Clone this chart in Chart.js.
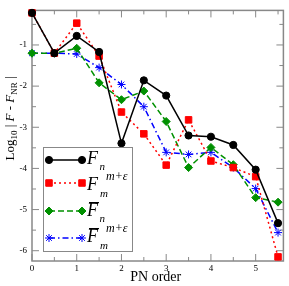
<!DOCTYPE html>
<html>
<head>
<meta charset="utf-8">
<script src="https://cdn.jsdelivr.net/npm/chart.js@4.4.0/dist/chart.umd.min.js"></script>
<style>
  html, body { margin: 0; padding: 0; background: #fff; }
  #wrap { width: 289px; height: 286px; }
</style>
</head>
<body>
<div id="wrap"><canvas id="c" width="289" height="286"></canvas></div>
<script>
// PN orders and log10 errors
const pnOrder = [0, 0.5, 1, 1.5, 2, 2.5, 3, 3.5, 4, 4.5, 5, 5.5];
const fN      = [-0.22, -1.2, -0.78, -1.17, -3.39, -1.86, -2.23, -3.2, -3.23, -3.43, -4.03, -5.33];
const fMEps   = [-0.22, -1.2, -0.47, -1.27, -2.63, -3.16, -3.92, -2.82, -3.82, -3.98, -4.2, -6.15];
const fBarN   = [-1.2, -1.2, -1.08, -1.92, -2.33, -2.12, -2.86, -3.98, -3.49, -3.91, -4.71, -4.82];
const fBarMEps= [-1.2, -1.2, -1.22, -1.55, -1.96, -2.5, -3.61, -3.66, -3.61, -3.98, -4.49, -5.56];
const xTicks = [0, 1, 2, 3, 4, 5];
const yTicks = [-1, -2, -3, -4, -5, -6];

const serif = "'Liberation Serif', 'DejaVu Serif', serif";
const green = '#009000';

function pts(ys) {
  return pnOrder.map((x, i) => ({ x: x, y: ys[i] }));
}

const series = [
  { data: fN, color: '#000', dash: [], style: 'circle', r: 3.6, bw: 1, bar: false, sub: 'n', sup: '' },
  { data: fMEps, color: '#ff0000', dash: [2, 3], style: 'rect', r: 4.6, bw: 1, bar: false, sub: 'm', sup: 'm+ε' },
  { data: fBarN, color: green, dash: [6, 3], style: 'rectRot', r: 4, bw: 1, bar: true, sub: 'n', sup: '' },
  { data: fBarMEps, color: '#0000ff', dash: [6, 3, 1.5, 3], style: 'star', r: 4, bw: 1, bar: true, sub: 'm', sup: 'm+ε' }
];

const datasets = series.map(s => ({
  data: pts(s.data),
  borderColor: s.color,
  backgroundColor: s.color,
  borderWidth: 1.5,
  borderDash: s.dash,
  pointStyle: s.style,
  pointRadius: s.r,
  pointBorderWidth: s.bw,
  pointBackgroundColor: s.color,
  pointBorderColor: s.color,
  tension: 0,
  clip: false
}));

function drawMarker(ctx, s, x, y) {
  ctx.save();
  ctx.setLineDash([]);
  ctx.fillStyle = s.color;
  ctx.strokeStyle = s.color;
  ctx.lineWidth = s.bw;
  Chart.helpers.drawPoint(ctx, { pointStyle: s.style, radius: s.r, rotation: 0, borderWidth: s.bw }, x, y);
  ctx.restore();
}

// frame with inward ticks, axis titles, legend
const decor = {
  id: 'decor',
  beforeDatasetsDraw(chart) {
    const ctx = chart.ctx;
    const a = chart.chartArea;
    const xs = chart.scales.x, ys = chart.scales.y;
    ctx.save();
    ctx.strokeStyle = '#888';
    ctx.lineWidth = 1.5;
    ctx.strokeRect(a.left, a.top, a.right - a.left, a.bottom - a.top);
    ctx.lineWidth = 1;
    ctx.beginPath();
    for (let v = 0; v <= 5.5; v += 0.5) {
      const px = xs.getPixelForValue(v);
      const len = Number.isInteger(v) ? 7 : 4;
      ctx.moveTo(px, a.bottom); ctx.lineTo(px, a.bottom - len);
      ctx.moveTo(px, a.top); ctx.lineTo(px, a.top + len);
    }
    for (let v = -6; v <= -0.5; v += 0.5) {
      const py = ys.getPixelForValue(v);
      const len = Number.isInteger(v) ? 7 : 4;
      ctx.moveTo(a.left, py); ctx.lineTo(a.left + len, py);
      ctx.moveTo(a.right, py); ctx.lineTo(a.right - len, py);
    }
    ctx.stroke();
    ctx.restore();
  },
  afterDraw(chart) {
    const ctx = chart.ctx;
    const a = chart.chartArea;
    ctx.save();
    ctx.fillStyle = '#000';
    ctx.textBaseline = 'alphabetic';

    // x title
    ctx.font = '14px ' + serif;
    ctx.textAlign = 'center';
    ctx.fillText('PN order', (a.left + a.right) / 2 - 2, 281);

    // y title, rotated
    const parts = [
      { t: 'Log', f: '13px ' + serif, dy: 0 },
      { t: '10', f: '9px ' + serif, dy: 3 },
      { t: ' | ', f: '13px ' + serif, dy: 0 },
      { t: 'F', f: 'italic 13px ' + serif, dy: 0 },
      { t: ' - ', f: '13px ' + serif, dy: 0 },
      { t: 'F', f: 'italic 13px ' + serif, dy: 0 },
      { t: 'NR', f: '9px ' + serif, dy: 3 },
      { t: ' |', f: '13px ' + serif, dy: 0 }
    ];
    let total = 0;
    parts.forEach(p => { ctx.font = p.f; p.w = ctx.measureText(p.t).width; total += p.w; });
    ctx.translate(14, 118.5);
    ctx.rotate(-Math.PI / 2);
    ctx.textAlign = 'left';
    let cx = -total / 2;
    parts.forEach(p => { ctx.font = p.f; ctx.fillText(p.t, cx, p.dy); cx += p.w; });
    ctx.setTransform(1, 0, 0, 1, 0, 0);

    // legend box
    ctx.fillStyle = '#fff';
    ctx.fillRect(43, 147, 90, 105);
    ctx.strokeStyle = '#888';
    ctx.lineWidth = 1;
    ctx.strokeRect(43.5, 147.5, 89, 104);

    const rowY = [160, 183, 211, 238];
    const baseY = [164, 190, 216, 242];
    series.forEach((s, i) => {
      const y = rowY[i];
      ctx.save();
      ctx.strokeStyle = s.color;
      ctx.lineWidth = 1.5;
      ctx.setLineDash(s.dash);
      ctx.beginPath();
      ctx.moveTo(49, y); ctx.lineTo(82, y);
      ctx.stroke();
      ctx.restore();
      drawMarker(ctx, s, 49, y);
      drawMarker(ctx, s, 82, y);

      const b = baseY[i];
      ctx.fillStyle = '#000';
      ctx.textAlign = 'left';
      ctx.font = 'italic 18px ' + serif;
      ctx.fillText('F', 87, b);
      if (s.bar) {
        ctx.fillRect(89, b - 14, 10, 1.2);
      }
      ctx.font = 'italic 11px ' + serif;
      ctx.fillText(s.sub, s.sub === 'm' ? 100 : 99.5, b + (s.sub === 'm' ? 7 : 6));
      if (s.sup) {
        ctx.font = 'italic 12px ' + serif;
        ctx.fillText(s.sup, 106, b - 10);
      }
    });
    ctx.restore();
  }
};

new Chart(document.getElementById('c'), {
  type: 'line',
  data: { datasets: datasets },
  options: {
    responsive: false,
    animation: false,
    layout: { padding: { left: 0, right: 2, top: 3, bottom: 0 } },
    plugins: { legend: { display: false }, tooltip: { enabled: false } },
    scales: {
      x: {
        type: 'linear',
        min: 0,
        max: 5.62,
        grid: { display: false, drawTicks: false },
        border: { display: false },
        afterFit: s => { s.height = 25; },
        afterBuildTicks: s => { s.ticks = xTicks.map(v => ({ value: v })); },
        ticks: {
          padding: 2,
          maxRotation: 0,
          autoSkip: false,
          color: '#000',
          font: { family: serif, size: 9 },
          callback: v => String(v)
        }
      },
      y: {
        type: 'linear',
        min: -6.25,
        max: -0.16,
        grid: { display: false, drawTicks: false },
        border: { display: false },
        afterFit: s => { s.width = 32; },
        afterBuildTicks: s => { s.ticks = yTicks.map(v => ({ value: v })); },
        ticks: {
          padding: 5,
          autoSkip: false,
          color: '#000',
          font: { family: serif, size: 9 },
          callback: v => String(v)
        }
      }
    }
  },
  plugins: [decor]
});
</script>
</body>
</html>
